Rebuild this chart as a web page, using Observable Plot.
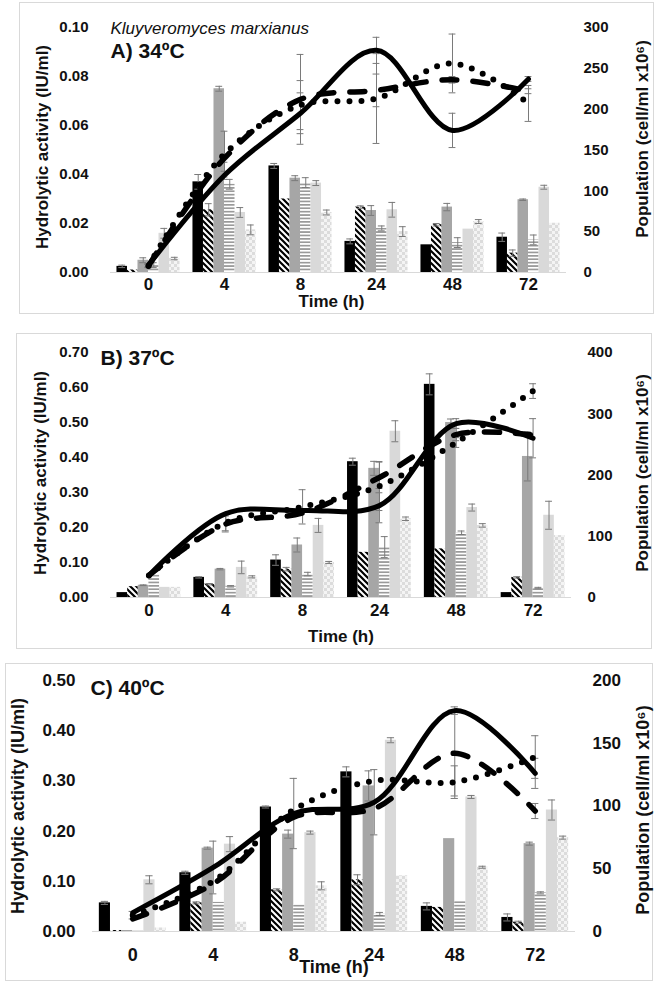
<!DOCTYPE html>
<html><head><meta charset="utf-8">
<script src="https://cdn.jsdelivr.net/npm/d3@7"></script>
<script src="https://cdn.jsdelivr.net/npm/@observablehq/plot@0.6"></script>
<style>
body{margin:0;background:#fff;font-family:"Liberation Sans",Arial,sans-serif;}
#wrap{position:relative;width:659px;height:983px;overflow:hidden;}
.box{position:absolute;border:1px solid #d9d9d9;box-sizing:border-box;}
.panel{position:absolute;left:0;}
</style></head><body>
<svg width="0" height="0" style="position:absolute">
<defs>
<pattern id="hatch" width="6" height="6" patternUnits="userSpaceOnUse">
<rect width="6" height="6" fill="#fff"/>
<path d="M-1,-1 L7,7 M-1,5 L1,7 M5,-1 L7,1" stroke="#000" stroke-width="2.2"/>
</pattern>
<pattern id="hstripe" width="6" height="3.4" patternUnits="userSpaceOnUse">
<rect width="6" height="3.4" fill="#fff"/>
<rect width="6" height="1.7" fill="#9a9a9a"/>
</pattern>
<pattern id="checker" width="6" height="6" patternUnits="userSpaceOnUse">
<rect width="6" height="6" fill="#f4f4f4"/>
<rect width="3" height="3" fill="#dcdcdc"/>
<rect x="3" y="3" width="3" height="3" fill="#dcdcdc"/>
</pattern>
</defs></svg>
<div id="wrap"></div>
<script>
// ---------- shared categories ----------
const times = ["0", "4", "8", "24", "48", "72"];
const species = "Kluyveromyces marxianus";
const yTitle = "Hydrolytic activity (IU/ml)";
const y2Title = "Population (cell/ml x10\u2076)";
const xTitle = "Time (h)";

// ---------- Panel A (34ºC) ----------
const A_title = "A) 34\u00BAC";
const A_leftTicks = [0, 0.02, 0.04, 0.06, 0.08, 0.10];
const A_rightTicks = [0, 50, 100, 150, 200, 250, 300];
const A_bar1 = [0.0025, 0.037, 0.0435, 0.0127, 0.0113, 0.0144];
const A_bar1Err = [0.0005, 0.003, 0.001, 0.001, 0, 0.0017];
const A_bar2 = [0.001, 0.0256, 0.030, 0.0267, 0.0195, 0.0079];
const A_bar2Err = [0, 0.0025, 0, 0.0005, 0.0005, 0.0013];
const A_bar3 = [0.005, 0.075, 0.0385, 0.0253, 0.0267, 0.0297];
const A_bar3Err = [0.001, 0.001, 0.001, 0.002, 0.0015, 0.0003];
const A_bar4 = [0.003, 0.036, 0.0367, 0.018, 0.0122, 0.0133];
const A_bar4Err = [0.001, 0.002, 0.002, 0.001, 0.002, 0.002];
const A_bar5 = [0.016, 0.0245, 0.0365, 0.0256, 0.0177, 0.0348];
const A_bar5Err = [0.002, 0.002, 0.001, 0.003, 0, 0.0008];
const A_bar6 = [0.0057, 0.0174, 0.0245, 0.0167, 0.0208, 0.0201];
const A_bar6Err = [0.0005, 0.002, 0.001, 0.002, 0.0008, 0];
const A_solid = [9, 119, 195, 272, 174, 237];
const A_solidErr = [2, 5, 25, 16, 21, 3];
const A_dashed = [8, 140, 212, 223, 236, 222];
const A_dashedErr = [2, 5, 55, 20, 4, 3];
const A_dotted = [8, 145, 205, 213, 256, 207];
const A_dottedErr = [2, 28, 30, 55, 36, 22];

// ---------- Panel B (37ºC) ----------
const B_title = "B) 37\u00BAC";
const B_leftTicks = [0, 0.1, 0.2, 0.3, 0.4, 0.5, 0.6, 0.7];
const B_rightTicks = [0, 100, 200, 300, 400];
const B_bar1 = [0.014, 0.0575, 0.107, 0.388, 0.609, 0.014];
const B_bar1Err = [0, 0.002, 0.015, 0.01, 0.03, 0];
const B_bar2 = [0.031, 0.038, 0.081, 0.129, 0.139, 0.0575];
const B_bar2Err = [0, 0.002, 0.005, 0, 0, 0.002];
const B_bar3 = [0.035, 0.081, 0.15, 0.369, 0.50, 0.403];
const B_bar3Err = [0.001, 0.002, 0.02, 0.02, 0.01, 0.07];
const B_bar4 = [0.065, 0.032, 0.067, 0.144, 0.185, 0.027];
const B_bar4Err = [0, 0.002, 0.005, 0.03, 0.005, 0.002];
const B_bar5 = [0.029, 0.086, 0.206, 0.475, 0.257, 0.235];
const B_bar5Err = [0, 0.018, 0.02, 0.03, 0.01, 0.04];
const B_bar6 = [0.029, 0.059, 0.10, 0.225, 0.206, 0.177];
const B_bar6Err = [0, 0.003, 0.003, 0.005, 0.005, 0];
const B_solid = [36, 137, 142, 150, 284, 260];
const B_solidErr = [0, 0, 0, 28, 8, 32];
const B_dashed = [36, 120, 138, 196, 266, 265];
const B_dashedErr = [0, 13, 0, 25, 10, 0];
const B_dotted = [36, 122, 148, 182, 253, 337];
const B_dottedErr = [0, 13, 28, 40, 8, 12];

// ---------- Panel C (40ºC) ----------
const C_title = "C) 40\u00BAC";
const C_leftTicks = [0, 0.1, 0.2, 0.3, 0.4, 0.5];
const C_rightTicks = [0, 50, 100, 150, 200];
const C_bar1 = [0.057, 0.117, 0.248, 0.318, 0.050, 0.028];
const C_bar1Err = [0.003, 0.003, 0.002, 0.01, 0.007, 0.007];
const C_bar2 = [0.002, 0.057, 0.083, 0.103, 0.048, 0.0185];
const C_bar2Err = [0, 0.002, 0.002, 0.01, 0, 0.002];
const C_bar3 = [0.002, 0.166, 0.194, 0.29, 0.185, 0.175];
const C_bar3Err = [0, 0.002, 0.008, 0.03, 0, 0.003];
const C_bar4 = [0.002, 0.058, 0.053, 0.035, 0.06, 0.077];
const C_bar4Err = [0, 0, 0, 0.003, 0, 0.002];
const C_bar5 = [0.103, 0.174, 0.197, 0.381, 0.268, 0.242];
const C_bar5Err = [0.008, 0.015, 0.003, 0.005, 0.003, 0.02];
const C_bar6 = [0.007, 0.0185, 0.091, 0.111, 0.128, 0.187];
const C_bar6Err = [0, 0, 0.008, 0, 0.002, 0.003];
const C_solid = [15, 51, 94, 103, 176, 126];
const C_solidErr = [0, 21, 28, 26, 3, 12];
const C_dashed = [10, 38, 91, 98, 142, 96];
const C_dashedErr = [0, 0, 0, 0, 34, 6];
const C_dotted = [13, 40, 97, 120, 119, 139];
const C_dottedErr = [3, 0, 0, 0, 13, 17];

// ---------- styles ----------
const barFills = ["#000000", "url(#hatch)", "#a6a6a6", "url(#hstripe)", "#d9d9d9", "url(#checker)"];
const lineStyles = [
  {strokeWidth: 5, strokeDasharray: null},
  {strokeWidth: 5.5, strokeDasharray: "15,16"},
  {strokeWidth: 6, strokeDasharray: "0,12"}
];
const errColor = "#7a7a7a";
const txt = "#111";

function panel(cfg) {
  const ratio = cfg.leftMax / cfg.rightMax;
  const G = 0.83, BW = G / 6, cap = 0.045;
  const marks = [];
  marks.push(Plot.ruleY([0], {stroke: "#d9d9d9", strokeWidth: 1}));
  const errRows = [];
  cfg.bars.forEach((vals, s) => {
    const rows = vals.map((v, i) => ({i, v, e: cfg.barErr[s][i], c: i - G / 2 + (s + 0.5) * BW}));
    marks.push(Plot.rectY(rows, {
      x1: d => d.i - G / 2 + s * BW,
      x2: d => d.i - G / 2 + (s + 1) * BW,
      y1: 0, y2: "v", fill: barFills[s]
    }));
    rows.filter(d => d.e > 0).forEach(d => errRows.push(d));
  });
  marks.push(Plot.ruleX(errRows, {x: "c", y1: d => d.v - d.e, y2: d => d.v + d.e, stroke: errColor, strokeWidth: 1}));
  marks.push(Plot.ruleY(errRows, {y: d => d.v + d.e, x1: d => d.c - cap, x2: d => d.c + cap, stroke: errColor, strokeWidth: 1}));
  marks.push(Plot.ruleY(errRows, {y: d => d.v - d.e, x1: d => d.c - cap, x2: d => d.c + cap, stroke: errColor, strokeWidth: 1}));
  // line error bars
  const lerr = [];
  cfg.lines.forEach((vals, k) => vals.forEach((v, i) => {
    const e = cfg.lineErr[k][i];
    if (e > 0) lerr.push({i, v, e});
  }));
  marks.push(Plot.ruleX(lerr, {x: "i", y1: d => (d.v - d.e) * ratio, y2: d => (d.v + d.e) * ratio, stroke: errColor, strokeWidth: 1}));
  marks.push(Plot.ruleY(lerr, {y: d => (d.v + d.e) * ratio, x1: d => d.i - cap, x2: d => d.i + cap, stroke: errColor, strokeWidth: 1}));
  marks.push(Plot.ruleY(lerr, {y: d => (d.v - d.e) * ratio, x1: d => d.i - cap, x2: d => d.i + cap, stroke: errColor, strokeWidth: 1}));
  // lines
  cfg.lines.forEach((vals, k) => {
    const rows = vals.map((v, i) => ({i, v}));
    marks.push(Plot.line(rows, {
      x: "i", y: d => d.v * ratio, curve: "catmull-rom",
      stroke: "#000", strokeWidth: lineStyles[k].strokeWidth,
      strokeDasharray: lineStyles[k].strokeDasharray || undefined,
      strokeLinecap: "round", strokeLinejoin: "round"
    }));
  });
  // axes
  marks.push(Plot.axisY(cfg.leftTicks, {anchor: "left", tickSize: 0, tickPadding: cfg.lPad, tickFormat: d3.format(".2f"), label: null, fontSize: cfg.tickFont, fontWeight: "bold", fill: txt}));
  marks.push(Plot.axisY(cfg.rightTicks.map(v => v * ratio), {anchor: "right", tickSize: 0, tickPadding: cfg.rPad, tickFormat: d => String(Math.round(d / ratio)), label: null, fontSize: cfg.tickFont, fontWeight: "bold", fill: txt}));
  marks.push(Plot.axisX(d3.range(times.length), {tickSize: 0, tickPadding: cfg.xPad, tickFormat: i => times[i], label: null, fontSize: cfg.xFont, fontWeight: "bold", fill: txt}));
  // titles
  marks.push(Plot.text([xTitle], {text: d => d, frameAnchor: "bottom", lineAnchor: "middle", dx: cfg.xtDx, dy: cfg.xtDy, fontSize: cfg.xFont, fontWeight: "bold", fill: txt}));
  marks.push(Plot.text([yTitle], {text: d => d, frameAnchor: "left", rotate: -90, textAnchor: "middle", lineAnchor: "middle", dx: cfg.ytDx, dy: cfg.ytDy, fontSize: cfg.titleFont, fontWeight: "bold", fill: txt}));
  marks.push(Plot.text([y2Title], {text: d => d, frameAnchor: "right", rotate: -90, textAnchor: "middle", lineAnchor: "middle", dx: cfg.y2Dx, dy: cfg.y2Dy, fontSize: cfg.titleFont, fontWeight: "bold", fill: txt}));
  marks.push(Plot.text([cfg.title], {text: d => d, frameAnchor: "top-left", textAnchor: "start", lineAnchor: "middle", dx: cfg.tDx, dy: cfg.tDy, fontSize: 21, fontWeight: "bold", fill: txt}));
  if (cfg.species) {
    marks.push(Plot.text([cfg.species], {text: d => d, frameAnchor: "top-left", textAnchor: "start", lineAnchor: "middle", dx: 0, dy: 1.5, fontSize: 17, fontStyle: "italic", fill: txt}));
  }
  return Plot.plot({
    width: 659, height: cfg.h,
    marginLeft: cfg.ml, marginRight: cfg.mr, marginTop: cfg.mt, marginBottom: cfg.mb,
    x: {domain: [-0.5, times.length - 0.5]},
    y: {domain: [0, cfg.leftMax]},
    style: {fontFamily: "'Liberation Sans', Arial, sans-serif", background: "transparent", overflow: "visible"},
    marks
  });
}

const panels = [
  {top: 0, box: [19, 2, 635, 312], h: 315, ml: 110, mr: 93, mt: 27, mb: 43,
   leftMax: 0.10, rightMax: 300, leftTicks: A_leftTicks, rightTicks: A_rightTicks,
   bars: [A_bar1, A_bar2, A_bar3, A_bar4, A_bar5, A_bar6],
   barErr: [A_bar1Err, A_bar2Err, A_bar3Err, A_bar4Err, A_bar5Err, A_bar6Err],
   lines: [A_solid, A_dashed, A_dotted], lineErr: [A_solidErr, A_dashedErr, A_dottedErr],
   lPad: 22, rPad: 17, xPad: 5, tickFont: 15, xFont: 17, titleFont: 17,
   xtDx: -7, xtDy: 29, ytDx: -68, ytDy: -3, y2Dx: 76, y2Dy: -11,
   title: A_title, tDx: 0, tDy: 24, species: species},
  {top: 330, box: [16, 333, 636, 316], h: 320, ml: 110, mr: 88, mt: 22, mb: 53,
   leftMax: 0.70, rightMax: 400, leftTicks: B_leftTicks, rightTicks: B_rightTicks,
   bars: [B_bar1, B_bar2, B_bar3, B_bar4, B_bar5, B_bar6],
   barErr: [B_bar1Err, B_bar2Err, B_bar3Err, B_bar4Err, B_bar5Err, B_bar6Err],
   lines: [B_solid, B_dashed, B_dotted], lineErr: [B_solidErr, B_dashedErr, B_dottedErr],
   lPad: 22, rPad: 16, xPad: 6, tickFont: 15, xFont: 17, titleFont: 17,
   xtDx: 0, xtDy: 39, ytDx: -70, ytDy: -2, y2Dx: 71, y2Dy: -2,
   title: B_title, tDx: -10, tDy: 6},
  {top: 660, box: [5, 663, 648, 318], h: 323, ml: 92, mr: 84, mt: 20, mb: 52,
   leftMax: 0.50, rightMax: 200, leftTicks: C_leftTicks, rightTicks: C_rightTicks,
   bars: [C_bar1, C_bar2, C_bar3, C_bar4, C_bar5, C_bar6],
   barErr: [C_bar1Err, C_bar2Err, C_bar3Err, C_bar4Err, C_bar5Err, C_bar6Err],
   lines: [C_solid, C_dashed, C_dotted], lineErr: [C_solidErr, C_dashedErr, C_dottedErr],
   lPad: 17, rPad: 17, xPad: 17, tickFont: 17, xFont: 18, titleFont: 18,
   xtDx: 0, xtDy: 36, ytDx: -74, ytDy: -0, y2Dx: 68, y2Dy: 4,
   title: C_title, tDx: -2, tDy: 8}
];

const wrap = document.getElementById("wrap");
panels.forEach(cfg => {
  const b = document.createElement("div");
  b.className = "box";
  b.style.left = cfg.box[0] + "px"; b.style.top = cfg.box[1] + "px";
  b.style.width = cfg.box[2] + "px"; b.style.height = cfg.box[3] + "px";
  wrap.appendChild(b);
  const d = document.createElement("div");
  d.className = "panel";
  d.style.top = cfg.top + "px";
  d.appendChild(panel(cfg));
  wrap.appendChild(d);
});
</script>
</body></html>
